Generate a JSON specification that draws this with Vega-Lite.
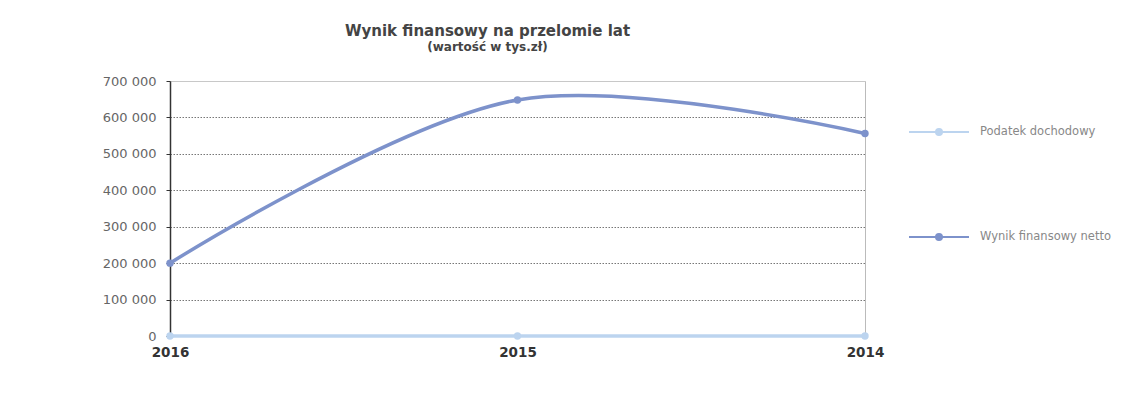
{
  "$schema": "https://vega.github.io/schema/vega-lite/v6.json",
  "width": 695,
  "height": 255,
  "autosize": {"type": "none"},
  "padding": {"left": 170, "top": 81, "right": 257, "bottom": 71},
  "background": "white",
  "title": {
    "text": "Wynik finansowy  na przelomie lat",
    "subtitle": "(wartość w tys.zł)",
    "anchor": "middle",
    "dx": -30,
    "offset": 22,
    "font": "DejaVu Sans",
    "fontSize": 15,
    "fontWeight": "bold",
    "color": "#444",
    "subtitleFont": "DejaVu Sans",
    "subtitleFontSize": 12,
    "subtitleFontWeight": "bold",
    "subtitleColor": "#444",
    "subtitlePadding": 3
  },
  "data": {
    "values": [
      {"rok": "2016", "seria": "Podatek dochodowy", "wartosc": 0},
      {"rok": "2015", "seria": "Podatek dochodowy", "wartosc": 0},
      {"rok": "2014", "seria": "Podatek dochodowy", "wartosc": 0},
      {"rok": "2016", "seria": "Wynik finansowy netto", "wartosc": 200000},
      {"rok": "2015", "seria": "Wynik finansowy netto", "wartosc": 648000},
      {"rok": "2014", "seria": "Wynik finansowy netto", "wartosc": 556000}
    ]
  },
  "encoding": {
    "x": {
      "field": "rok",
      "type": "ordinal",
      "sort": null,
      "scale": {"type": "point", "padding": 0},
      "axis": {
        "title": null,
        "labelAngle": 0,
        "labelFont": "DejaVu Sans",
        "labelFontSize": 13.5,
        "labelFontWeight": "bold",
        "labelColor": "#333",
        "labelPadding": 9,
        "domain": false,
        "ticks": false,
        "grid": false
      }
    },
    "y": {
      "field": "wartosc",
      "type": "quantitative",
      "scale": {"domain": [0, 700000], "nice": false},
      "axis": {
        "title": null,
        "values": [0, 100000, 200000, 300000, 400000, 500000, 600000, 700000],
        "format": ",d",
        "labelFont": "DejaVu Sans",
        "labelFontSize": 13,
        "labelColor": "#666",
        "labelPadding": 10,
        "domainColor": "#333",
        "domainWidth": 1.5,
        "tickColor": "#333",
        "tickSize": 4,
        "grid": true,
        "gridColor": {"condition": {"test": "datum.value === 700000", "value": "#c8c8c8"}, "value": "#777"},
        "gridDash": {"condition": {"test": "datum.value === 700000", "value": []}, "value": [1.5, 1.5]},
        "gridWidth": 1
      }
    },
    "color": {
      "field": "seria",
      "type": "nominal",
      "scale": {"domain": ["Podatek dochodowy", "Wynik finansowy netto"], "range": ["#bcd4ef", "#7d92cb"]},
      "legend": {
        "title": null,
        "orient": "none",
        "legendX": 738,
        "legendY": 20,
        "rowPadding": 67,
        "symbolType": "M-1,0L1,0M0.1,0A0.1,0.1,0,1,1,-0.1,0A0.1,0.1,0,1,1,0.1,0",
        "symbolSize": 3600,
        "symbolStrokeWidth": 2,
        "labelFont": "DejaVu Sans",
        "labelFontSize": 11.5,
        "labelColor": "#888",
        "labelOffset": 10
      }
    }
  },
  "layer": [
    {
      "mark": {"type": "line", "interpolate": "catmull-rom", "strokeWidth": 3.5},
      "encoding": {}
    },
    {
      "mark": {"type": "point", "filled": true, "size": 55, "opacity": 1},
      "encoding": {}
    }
  ],
  "config": {
    "locale": {"number": {"decimal": ",", "thousands": " ", "grouping": [3], "currency": ["", " zł"]}},
    "view": {"stroke": "#bbb", "strokeWidth": 1}
  }
}
